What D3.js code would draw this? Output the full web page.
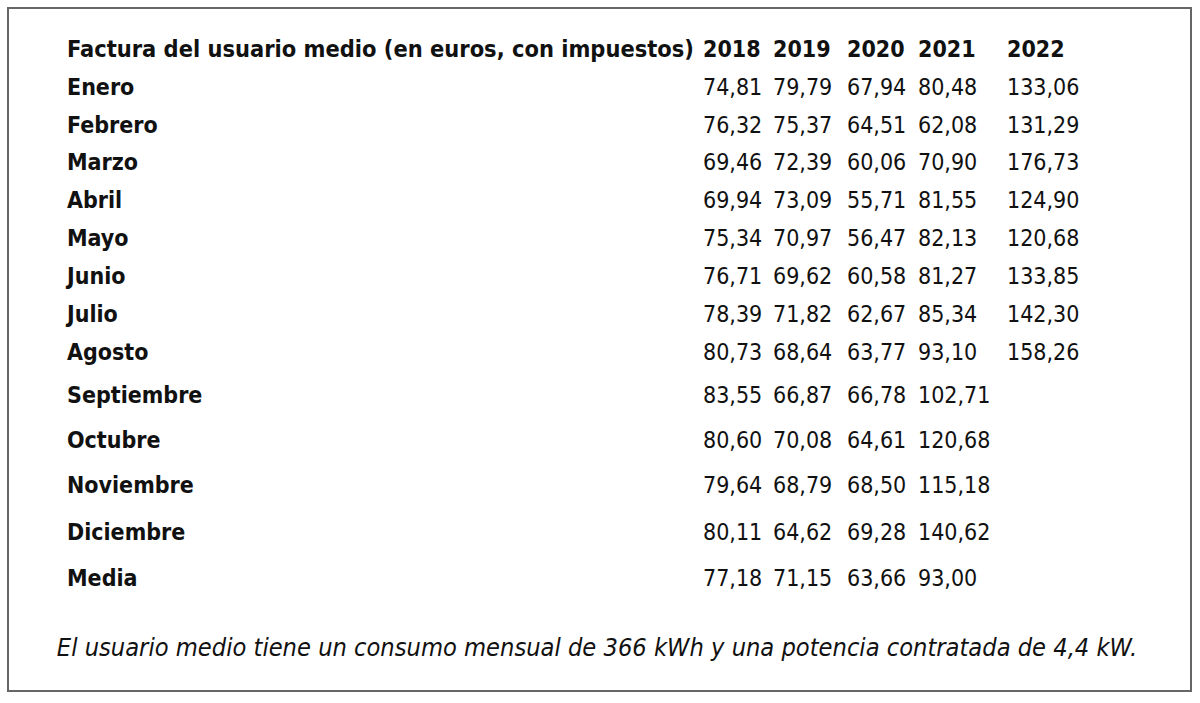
<!DOCTYPE html>
<html>
<head>
<meta charset="utf-8">
<script src="https://cdn.jsdelivr.net/npm/d3@7"></script>
<style>
  html, body { margin: 0; padding: 0; background: #fff; }
  svg text { font-family: "DejaVu Sans Condensed", "DejaVu Sans", sans-serif; fill: #111; }
</style>
</head>
<body>
<svg id="chart" width="1200" height="703"></svg>
<script>
// Data
const title = "Factura del usuario medio (en euros, con impuestos)";
const years = ["2018", "2019", "2020", "2021", "2022"];
const months = ["Enero", "Febrero", "Marzo", "Abril", "Mayo", "Junio", "Julio",
    "Agosto", "Septiembre", "Octubre", "Noviembre", "Diciembre", "Media"];
const v2018 = [74.81, 76.32, 69.46, 69.94, 75.34, 76.71, 78.39, 80.73, 83.55, 80.60, 79.64, 80.11, 77.18];
const v2019 = [79.79, 75.37, 72.39, 73.09, 70.97, 69.62, 71.82, 68.64, 66.87, 70.08, 68.79, 64.62, 71.15];
const v2020 = [67.94, 64.51, 60.06, 55.71, 56.47, 60.58, 62.67, 63.77, 66.78, 64.61, 68.50, 69.28, 63.66];
const v2021 = [80.48, 62.08, 70.90, 81.55, 82.13, 81.27, 85.34, 93.10, 102.71, 120.68, 115.18, 140.62, 93.00];
const v2022 = [133.06, 131.29, 176.73, 124.90, 120.68, 133.85, 142.30, 158.26, null, null, null, null, null];
const note = "El usuario medio tiene un consumo mensual de 366 kWh y una potencia contratada de 4,4 kW.";

const series = [v2018, v2019, v2020, v2021, v2022];

const svg = d3.select("#chart");
const width = +svg.attr("width");
const height = +svg.attr("height");
const fontSize = 23;

const es = d3.formatLocale({ decimal: ",", thousands: ".", grouping: [3], currency: ["", " €"] });
const fmt = es.format(".2f");

// Layout: column and row positions (rows get taller towards the bottom, as in the original)
const x = d3.scaleOrdinal().domain(years).range([703, 773, 847, 918, 1007]);
const y = d3.scaleOrdinal().domain(months)
    .range([95, 133, 170, 208, 246, 284, 322, 360, 403, 448, 493, 540, 586]);
const headerY = 57;
const labelX = 67;

// Frame
svg.append("rect")
    .attr("x", 8).attr("y", 8)
    .attr("width", width - 17).attr("height", height - 20)
    .attr("fill", "none")
    .attr("stroke", "#666")
    .attr("stroke-width", 2);

// Header row
svg.append("text")
    .attr("x", labelX).attr("y", headerY)
    .attr("font-size", 23.4).attr("font-weight", "bold")
    .text(title);

svg.append("g").selectAll("text")
    .data(years)
    .join("text")
    .attr("x", d => x(d)).attr("y", headerY)
    .attr("font-size", fontSize).attr("font-weight", "bold")
    .text(d => d);

// Month labels
svg.append("g").selectAll("text")
    .data(months)
    .join("text")
    .attr("x", labelX).attr("y", d => y(d))
    .attr("font-size", fontSize).attr("font-weight", "bold")
    .text(d => d);

// Cells
const cells = [];
years.forEach((yr, i) => {
    months.forEach((m, j) => {
        if (series[i][j] != null) cells.push({ year: yr, month: m, value: series[i][j] });
    });
});

svg.append("g").selectAll("text")
    .data(cells)
    .join("text")
    .attr("x", d => x(d.year)).attr("y", d => y(d.month))
    .attr("font-size", fontSize)
    .text(d => fmt(d.value));

// Footnote
svg.append("text")
    .attr("x", 597).attr("y", 656)
    .attr("text-anchor", "middle")
    .attr("font-size", 25.2).attr("font-style", "italic")
    .text(note);
</script>
</body>
</html>
